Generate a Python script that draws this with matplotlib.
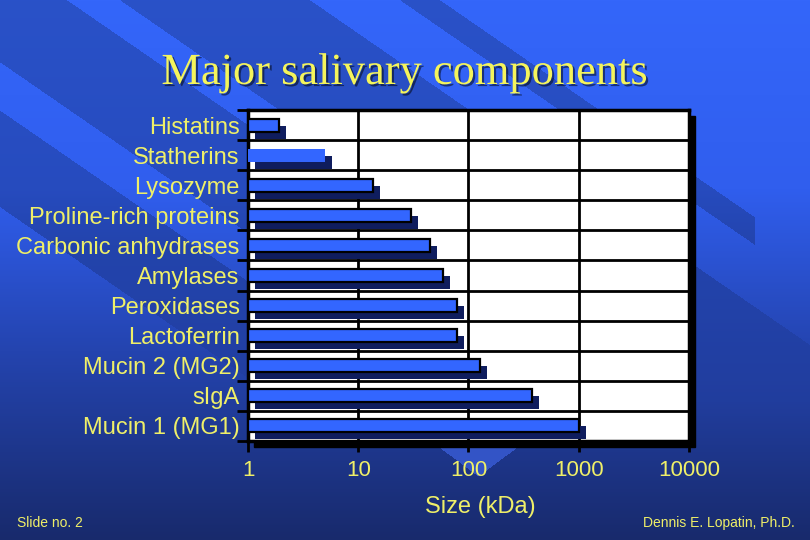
import numpy as np
import matplotlib
matplotlib.use("Agg")
import matplotlib.pyplot as plt
from matplotlib import transforms
from matplotlib.patches import Rectangle
from matplotlib.ticker import NullLocator
import matplotlib.patheffects as pe

plt.rcParams['font.family'] = ['Liberation Sans', 'DejaVu Sans']

# data
categories = ['Histatins', 'Statherins', 'Lysozyme', 'Proline-rich proteins',
              'Carbonic anhydrases', 'Amylases', 'Peroxidases', 'Lactoferrin',
              'Mucin 2 (MG2)', 'sIgA', 'Mucin 1 (MG1)']
sizes_kda = [1.9, 5.0, 13.7, 30, 45, 59, 78, 78, 128, 375, 1000]
x_ticks = [1, 10, 100, 1000, 10000]
x_ticklabels = ['1', '10', '100', '1000', '10000']

yellow = '#EFEF68'
bar_blue = '#3366FF'
shadow_navy = '#0F1D5E'

W, H = 810, 540
fig = plt.figure(figsize=(8.1, 5.4), dpi=100)

# slide background: vertical gradient + diagonal template stripes
yy, xx = np.mgrid[0:H, 0:W]
t = yy / (H - 1)
st = [0, 0.35, 0.65, 1.0]
r = np.interp(t, st, [52, 48, 36, 24])
g = np.interp(t, st, [102, 94, 68, 42])
b = np.interp(t, st, [250, 238, 175, 108])
img = np.dstack([r, g, b]) / 255.0
c = xx - 1.45 * yy
stripe = (((c > -90) & (c < 67)) | ((c > 120) & (c < 310)) |
          ((c > 400) & (c < 440) & (xx < 755)) | ((c > -300) & (c < -160)))
fade = np.clip((400 - yy) / 150, 0, 1)
img *= (1 - 0.2 * stripe * fade)[..., None]
tri = (yy > 441) & (yy < 476) & (np.abs(xx - 478) < (476 - yy) * 1.35)
img[tri] = [0.2, 0.33, 0.78]

bg = fig.add_axes([0, 0, 1, 1], zorder=-2)
bg.imshow(img, extent=[0, W, H, 0], aspect='auto', interpolation='bilinear')
bg.set_axis_off()

ax = fig.add_axes([248 / W, 1 - 441 / H, 441 / W, 331 / H], zorder=1)
ax.set_facecolor('white')

# black drop shadow behind the plot area
plot_shadow = Rectangle((0, 0), 1, 1, color='black', zorder=0.5,
                        transform=ax.transAxes + transforms.ScaledTranslation(6 / 100, -6 / 100, fig.dpi_scale_trans))
fig.add_artist(plot_shadow)

n = len(categories)
pos = np.arange(n)
widths = np.array(sizes_kda) - 1

shadow_off = transforms.ScaledTranslation(7 / 100, -7 / 100, fig.dpi_scale_trans)
shadows = ax.barh(pos, widths, left=1, height=0.43, color=shadow_navy, zorder=2)
for p in shadows:
    p.set_transform(ax.transData + shadow_off)

edges = ['black'] * n
edges[1] = 'none'
ax.barh(pos, widths, left=1, height=0.43, color=bar_blue, edgecolor=edges, linewidth=1.6, zorder=3)

ax.set_xscale('log')
ax.set_xlim(1, 10000)
ax.set_ylim(n - 0.5, -0.5)

ax.set_xticks(x_ticks, x_ticklabels)
ax.xaxis.set_minor_locator(NullLocator())
ax.set_yticks(pos, categories)
ax.set_yticks(np.arange(n + 1) - 0.5, minor=True)

ax.set_axisbelow(True)
ax.grid(axis='y', which='minor', color='black', lw=2)
ax.grid(axis='x', which='major', color='black', lw=2)

ax.tick_params(axis='y', which='major', length=0, pad=6, labelsize=17, labelcolor=yellow)
ax.tick_params(axis='y', which='minor', length=8, width=2, color='black')
ax.tick_params(axis='x', which='major', length=8, width=2, color='black', pad=6,
               labelsize=16, labelcolor=yellow)

for s in ax.spines.values():
    s.set_linewidth(2.5)
    s.set_color('black')

fig.text(405 / W, 1 - 84 / H, 'Major salivary components', ha='center', va='baseline',
         fontsize=32, family=['Liberation Serif', 'DejaVu Serif'], color='#F4F45C',
         path_effects=[pe.withSimplePatchShadow(offset=(1.5, -1.5), shadow_rgbFace='black', alpha=0.5)])
fig.text(480 / W, 1 - 507 / H, 'Size (kDa)', ha='center', va='center', fontsize=17, color=yellow)
fig.text(17 / W, 1 - 523 / H, 'Slide no. 2', ha='left', va='center', fontsize=10, color=yellow)
fig.text(795 / W, 1 - 523 / H, 'Dennis E. Lopatin, Ph.D.', ha='right', va='center', fontsize=10, color=yellow)

fig.savefig('out.png', dpi=100)
